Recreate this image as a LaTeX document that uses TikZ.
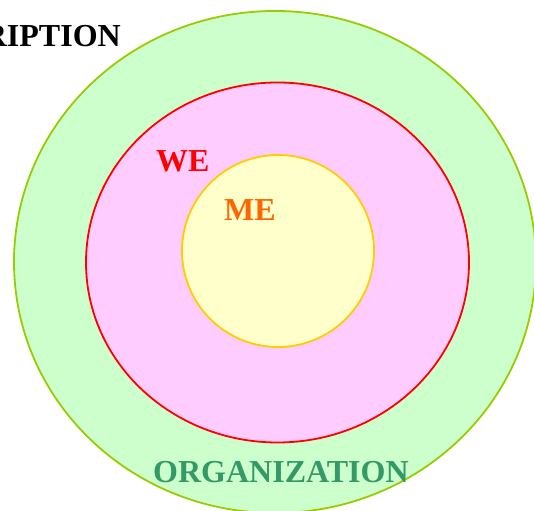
\documentclass[tikz,border=0pt]{standalone}
\usepackage{fontspec}
\setmainfont{Liberation Serif}
\definecolor{outerfill}{HTML}{CCFFCC}
\definecolor{outerline}{HTML}{99CC00}
\definecolor{midfill}{HTML}{FFCCFF}
\definecolor{midline}{HTML}{FF0000}
\definecolor{innerfill}{HTML}{FFFFCC}
\definecolor{innerline}{HTML}{FFCC00}
\definecolor{meclr}{HTML}{FF6600}
\definecolor{orgclr}{HTML}{339966}
\begin{document}
\begin{tikzpicture}[x=1pt,y=1pt,
  ring/.style={line width=1.8pt},
  lbl/.style={inner sep=0pt, font=\fontsize{32}{32}\selectfont\bfseries}]
\useasboundingbox (0,0) rectangle (534,510);
\begin{scope}
\clip (0,0) rectangle (534,510);
\draw[ring, draw=outerline, fill=outerfill] (275,248) ellipse [x radius=261, y radius=251];
\draw[ring, draw=midline, fill=midfill] (277.5,247.5) ellipse [x radius=191.5, y radius=180];
\draw[ring, draw=innerline, fill=innerfill] (278,259) circle [radius=96];
\node[lbl, anchor=base east] (desc) at (121,463) {DESCRIPTION};
\end{scope}
\node[lbl, anchor=base west, text=midline] (we) at (156,338) {WE};
\node[lbl, anchor=base west, text=meclr] (me) at (224,289) {ME};
\node[lbl, anchor=base west, text=orgclr] (org) at (153,27) {ORGANIZATION};
\end{tikzpicture}
\end{document}
